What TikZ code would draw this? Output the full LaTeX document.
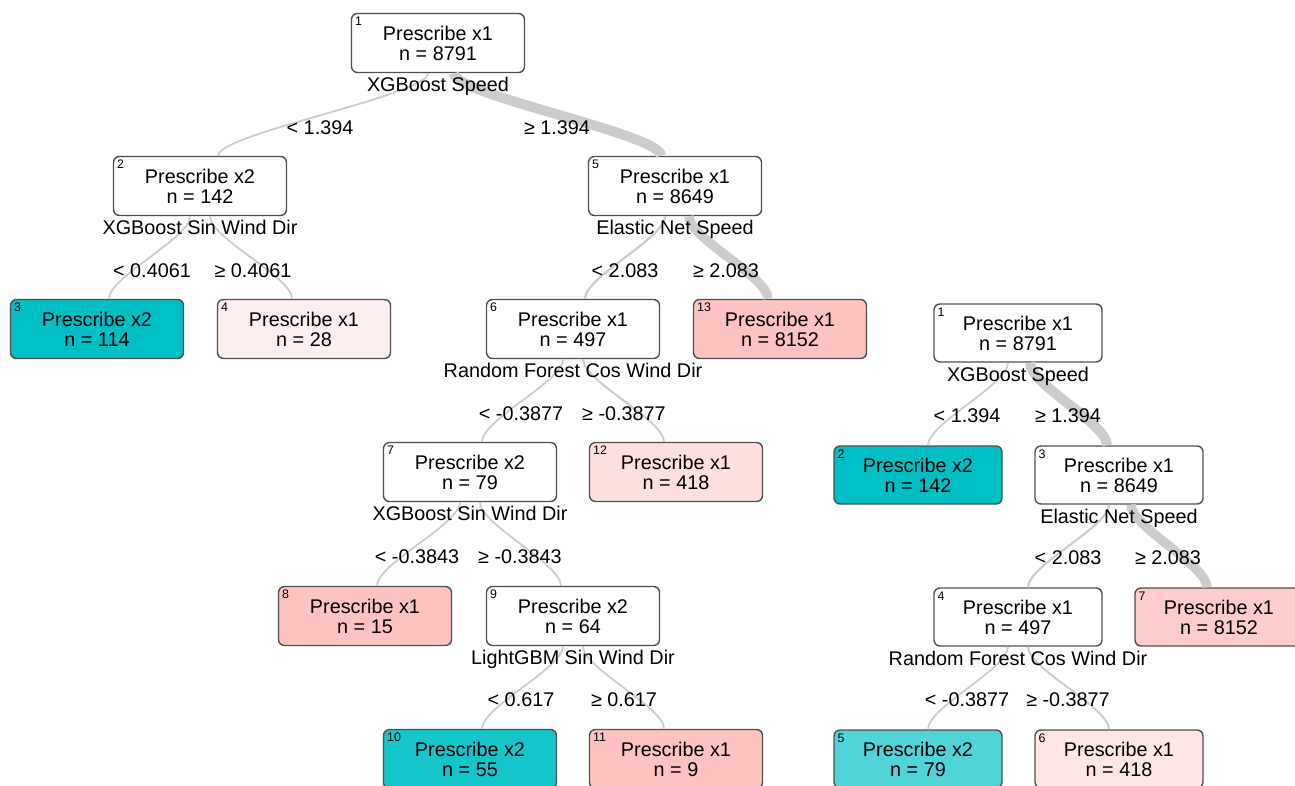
\documentclass[tikz,border=0pt]{standalone}
\usepackage{fontspec}
\setmainfont{Liberation Sans}
\definecolor{boxline}{HTML}{505050}
\definecolor{edgegrey}{HTML}{CCCCCC}
\definecolor{tealA}{HTML}{00BFC4}
\definecolor{tealB}{HTML}{14C5C9}
\definecolor{tealC}{HTML}{50D4D7}
\definecolor{pinkA}{HTML}{FCC3C0}
\definecolor{pinkB}{HTML}{FCCDCA}
\definecolor{pinkC}{HTML}{FDE0DE}
\definecolor{pinkD}{HTML}{FEE6E4}
\definecolor{pinkE}{HTML}{FFEEEE}
\tikzset{
  box/.style={draw=boxline, line width=0.7pt, rounded corners=3pt, align=center,
    minimum width=86.5pt, minimum height=29.5pt, inner sep=0pt, fill=white,
    font=\fontsize{9.9}{10}\selectfont},
  rbox/.style={box, minimum width=84pt, minimum height=29pt},
  idlab/.style={anchor=north west, inner sep=2pt, font=\fontsize{6.2}{6.5}\selectfont},
  varlab/.style={anchor=north, inner sep=1.8pt, font=\fontsize{9.9}{10}\selectfont},
  splitlab/.style={inner sep=0pt, font=\fontsize{9.9}{10}\selectfont},
  edge/.style={draw=edgegrey},
}
\begin{document}
\begin{tikzpicture}[x=0.5pt,y=-0.5pt]
            \useasboundingbox (0,0) rectangle (1295,786);

            % left tree
            \node[box] (l1) at (438,43) {Prescribe x1\\n = 8791};
            \node[box] (l2) at (200,186) {Prescribe x2\\n = 142};
            \node[box] (l5) at (675,186) {Prescribe x1\\n = 8649};
            \node[box, fill=tealA] (l3) at (97,329) {Prescribe x2\\n = 114};
            \node[box, fill=pinkE] (l4) at (304,329) {Prescribe x1\\n = 28};
            \node[box] (l6) at (573,329) {Prescribe x1\\n = 497};
            \node[box, fill=pinkA] (l13) at (780,329) {Prescribe x1\\n = 8152};
            \node[box] (l7) at (470,472) {Prescribe x2\\n = 79};
            \node[box, fill=pinkC] (l12) at (676,472) {Prescribe x1\\n = 418};
            \node[box, fill=pinkA] (l8) at (365,616) {Prescribe x1\\n = 15};
            \node[box] (l9) at (573,616) {Prescribe x2\\n = 64};
            \node[box, fill=tealB] (l10) at (470,759) {Prescribe x2\\n = 55};
            \node[box, fill=pinkA] (l11) at (676,759) {Prescribe x1\\n = 9};

            % right tree
            \node[rbox] (r1) at (1018,333) {Prescribe x1\\n = 8791};
            \node[rbox, fill=tealA] (r2) at (918,475) {Prescribe x2\\n = 142};
            \node[rbox] (r3) at (1119,475) {Prescribe x1\\n = 8649};
            \node[rbox] (r4) at (1018,617) {Prescribe x1\\n = 497};
            \node[rbox, fill=pinkB] (r7) at (1219,617) {Prescribe x1\\n = 8152};
            \node[rbox, fill=tealC] (r5) at (918,759) {Prescribe x2\\n = 79};
            \node[rbox, fill=pinkD] (r6) at (1119,759) {Prescribe x1\\n = 418};

            % node numbers
            \foreach \n/\t in {l1/1,l2/2,l5/5,l3/3,l4/4,l6/6,l13/13,l7/7,l12/12,l8/8,l9/9,l10/10,l11/11,
                               r1/1,r2/2,r3/3,r4/4,r7/7,r5/5,r6/6}
                \node[idlab] at (\n.north west) {\t};

            % branches
            \draw[edge, line width=0.9pt] ([xshift=-5pt]l1.south) .. controls +(0,22) and +(0,-22) .. ([xshift=9pt]l2.north);
            \draw[edge, line width=5pt] ([xshift=8pt]l1.south) .. controls +(0,22) and +(0,-22) .. ([xshift=-7pt]l5.north);
            \draw[edge, line width=0.9pt] ([xshift=-5pt]l2.south) .. controls +(0,22) and +(0,-22) .. ([xshift=6pt]l3.north);
            \draw[edge, line width=0.9pt] ([xshift=5pt]l2.south) .. controls +(0,22) and +(0,-22) .. ([xshift=-6pt]l4.north);
            \draw[edge, line width=1.1pt] ([xshift=-5pt]l5.south) .. controls +(0,22) and +(0,-22) .. ([xshift=6pt]l6.north);
            \draw[edge, line width=4.7pt] ([xshift=7pt]l5.south) .. controls +(0,22) and +(0,-22) .. ([xshift=-6pt]l13.north);
            \draw[edge, line width=0.9pt] ([xshift=-5pt]l6.south) .. controls +(0,22) and +(0,-22) .. ([xshift=6pt]l7.north);
            \draw[edge, line width=1pt] ([xshift=5pt]l6.south) .. controls +(0,22) and +(0,-22) .. ([xshift=-6pt]l12.north);
            \draw[edge, line width=0.9pt] ([xshift=-5pt]l7.south) .. controls +(0,22) and +(0,-22) .. ([xshift=6pt]l8.north);
            \draw[edge, line width=0.9pt] ([xshift=5pt]l7.south) .. controls +(0,22) and +(0,-22) .. ([xshift=-6pt]l9.north);
            \draw[edge, line width=0.9pt] ([xshift=-5pt]l9.south) .. controls +(0,22) and +(0,-22) .. ([xshift=6pt]l10.north);
            \draw[edge, line width=0.9pt] ([xshift=5pt]l9.south) .. controls +(0,22) and +(0,-22) .. ([xshift=-6pt]l11.north);

            \draw[edge, line width=0.9pt] ([xshift=-5pt]r1.south) .. controls +(0,22) and +(0,-22) .. ([xshift=5pt]r2.north);
            \draw[edge, line width=5pt] ([xshift=6pt]r1.south) .. controls +(0,22) and +(0,-22) .. ([xshift=-6pt]r3.north);
            \draw[edge, line width=1.1pt] ([xshift=-5pt]r3.south) .. controls +(0,22) and +(0,-22) .. ([xshift=5pt]r4.north);
            \draw[edge, line width=4.7pt] ([xshift=6pt]r3.south) .. controls +(0,22) and +(0,-22) .. ([xshift=-6pt]r7.north);
            \draw[edge, line width=0.9pt] ([xshift=-5pt]r4.south) .. controls +(0,22) and +(0,-22) .. ([xshift=5pt]r5.north);
            \draw[edge, line width=1pt] ([xshift=5pt]r4.south) .. controls +(0,22) and +(0,-22) .. ([xshift=-5pt]r6.north);

            % split variables
            \node[varlab] (v1) at (l1.south) {XGBoost Speed};
            \node[varlab] (v2) at (l2.south) {XGBoost Sin Wind Dir};
            \node[varlab] (v5) at (l5.south) {Elastic Net Speed};
            \node[varlab] (v6) at (l6.south) {Random Forest Cos Wind Dir};
            \node[varlab] (v7) at (l7.south) {XGBoost Sin Wind Dir};
            \node[varlab] (v9) at (l9.south) {LightGBM Sin Wind Dir};
            \node[varlab] (w1) at (r1.south) {XGBoost Speed};
            \node[varlab] (w3) at (r3.south) {Elastic Net Speed};
            \node[varlab] (w4) at (r4.south) {Random Forest Cos Wind Dir};

            % split values
            \node[splitlab] (s2) at (320,128) {< 1.394};
            \node[splitlab] (s5) at (557,128) {≥ 1.394};
            \node[splitlab] (s3) at (152,271) {< 0.4061};
            \node[splitlab] (s4) at (253,271) {≥ 0.4061};
            \node[splitlab] (s6) at (625,271) {< 2.083};
            \node[splitlab] (s13) at (726,271) {≥ 2.083};
            \node[splitlab] (s7) at (521,414) {< -0.3877};
            \node[splitlab] (s12) at (624,414) {≥ -0.3877};
            \node[splitlab] (s8) at (417,557) {< -0.3843};
            \node[splitlab] (s9) at (520,557) {≥ -0.3843};
            \node[splitlab] (s10) at (521,700) {< 0.617};
            \node[splitlab] (s11) at (624,700) {≥ 0.617};
            \node[splitlab] (t2) at (967,416) {< 1.394};
            \node[splitlab] (t3) at (1068,416) {≥ 1.394};
            \node[splitlab] (t4) at (1068,558) {< 2.083};
            \node[splitlab] (t7) at (1168,558) {≥ 2.083};
            \node[splitlab] (t5) at (967,700) {< -0.3877};
            \node[splitlab] (t6) at (1068,700) {≥ -0.3877};
\end{tikzpicture}
\end{document}
